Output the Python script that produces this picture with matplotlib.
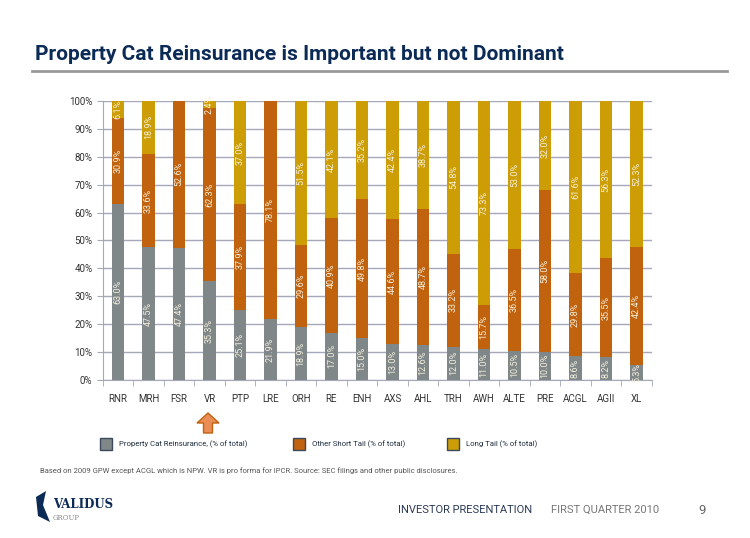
import matplotlib as mpl
mpl.use('Agg')
import matplotlib.pyplot as plt
from matplotlib.patches import FancyArrow, Rectangle, Polygon
from matplotlib.lines import Line2D
import numpy as np

companies = ['RNR', 'MRH', 'FSR', 'VR', 'PTP', 'LRE', 'ORH', 'RE', 'ENH',
             'AXS', 'AHL', 'TRH', 'AWH', 'ALTE', 'PRE', 'ACGL', 'AGII', 'XL']
prop_cat = [63.0, 47.5, 47.4, 35.3, 25.1, 21.9, 18.9, 17.0, 15.0,
            13.0, 12.6, 12.0, 11.0, 10.5, 10.0, 8.6, 8.2, 5.3]
other_short = [30.9, 33.6, 52.6, 62.3, 37.9, 78.1, 29.6, 40.9, 49.8,
               44.6, 48.7, 33.2, 15.7, 36.5, 58.0, 29.8, 35.5, 42.4]
long_tail = [6.1, 18.9, 0.0, 2.4, 37.0, 0.0, 51.5, 42.1, 35.2,
             42.4, 38.7, 54.8, 73.3, 53.0, 32.0, 61.6, 56.3, 52.3]

series = [('Property Cat Reinsurance, (% of total)', prop_cat, '#7f8789'),
          ('Other Short Tail (% of total)', other_short, '#c0620e'),
          ('Long Tail (% of total)', long_tail, '#cc9d04')]

NAVY = '#0b2a55'
GRID = '#a4a8b8'

plt.rcParams['font.family'] = ['Roboto', 'DejaVu Sans']

fig = plt.figure(figsize=(7.5, 5.38), dpi=100)
ax = fig.add_axes([0.137, 0.2937, 0.732, 0.5186])

x = np.arange(len(companies))
bottom = np.zeros(len(companies))
for name, vals, color in series:
    vals = np.array(vals)
    ax.bar(x, vals, 0.4, bottom=bottom, color=color, zorder=3)
    for xi, b, v in zip(x, bottom, vals):
        if v > 0:
            ax.text(xi, b + v / 2, '%.1f%%' % v, rotation=90, ha='center',
                    va='center', fontsize=6.5, color='#f6f0dc', zorder=4)
    bottom += vals

ax.set_xlim(-0.5, len(companies) - 0.5)
ax.set_ylim(0, 100)
ax.set_yticks(np.arange(0, 101, 10))
ax.set_yticklabels(['%d%%' % v for v in range(0, 101, 10)], fontsize=7,
                   color='#333333')
ax.yaxis.grid(True, color=GRID, linewidth=1.0, zorder=0)
ax.set_xticks(x)
ax.set_xticklabels(companies, fontsize=7, color='#333333')
ax.set_xticks(np.arange(-0.5, len(companies)), minor=True)
ax.tick_params(axis='x', which='major', length=0, pad=10)
ax.tick_params(axis='x', which='minor', length=4, color=GRID)
ax.tick_params(axis='y', length=4, color=GRID)
for side in ['top', 'right']:
    ax.spines[side].set_visible(False)
for side in ['left', 'bottom']:
    ax.spines[side].set_color(GRID)

# title and rule
fig.text(35 / 750, 1 - 55 / 538, 'Property Cat Reinsurance is Important but not Dominant',
         fontsize=15, fontweight='bold', color=NAVY, va='center', ha='left')
fig.add_artist(Line2D([32 / 750, 727 / 750], [1 - 71 / 538, 1 - 71 / 538],
                      color='#999999', linewidth=2))

# arrow under VR
fig.add_artist(FancyArrow(208 / 750, 1 - 433 / 538, 0, 20 / 538, width=9 / 750,
                          head_width=22 / 750, head_length=10 / 538,
                          length_includes_head=True, transform=fig.transFigure,
                          facecolor='#ea8c55', edgecolor='#c0620e', linewidth=1))

# legend
leg_x = [100, 293, 447]
for lx, (name, vals, color) in zip(leg_x, series):
    fig.add_artist(Rectangle((lx / 750, 1 - 450 / 538), 12 / 750, 12 / 538,
                             facecolor=color, edgecolor='#3a4a5c', linewidth=1,
                             transform=fig.transFigure))
    fig.text((lx + 19) / 750, 1 - 444 / 538, name, fontsize=5.6,
             color='#1f2d3d', va='center', ha='left')

fig.text(40 / 750, 1 - 471 / 538,
         'Based on 2009 GPW except ACGL which is NPW. VR is pro forma for IPCR. '
         'Source: SEC filings and other public disclosures.',
         fontsize=5.5, color='#555555', va='center', ha='left')

# footer
fig.add_artist(Polygon([[36 / 750, 1 - 497 / 538], [46 / 750, 1 - 491 / 538],
                        [43 / 750, 1 - 505 / 538], [50 / 750, 1 - 522 / 538],
                        [38 / 750, 1 - 516 / 538]], closed=True,
                       facecolor=NAVY, edgecolor='none', transform=fig.transFigure))
fig.text(53 / 750, 1 - 505 / 538, 'VALIDUS', fontsize=8.5, fontweight='bold',
         family='DejaVu Serif', color=NAVY, va='center', ha='left')
fig.text(53 / 750, 1 - 518 / 538, 'GROUP', fontsize=5, family='DejaVu Serif',
         color='#888888', va='center', ha='left')
fig.text(398 / 750, 1 - 510 / 538, 'INVESTOR PRESENTATION', fontsize=8,
         color='#2a3a55', va='center', ha='left')
fig.text(551 / 750, 1 - 510 / 538, 'FIRST QUARTER 2010', fontsize=8,
         color='#777777', va='center', ha='left')
fig.text(698 / 750, 1 - 510 / 538, '9', fontsize=9.5, color='#666666',
         va='center', ha='left')

fig.savefig('out.png', dpi=100)
